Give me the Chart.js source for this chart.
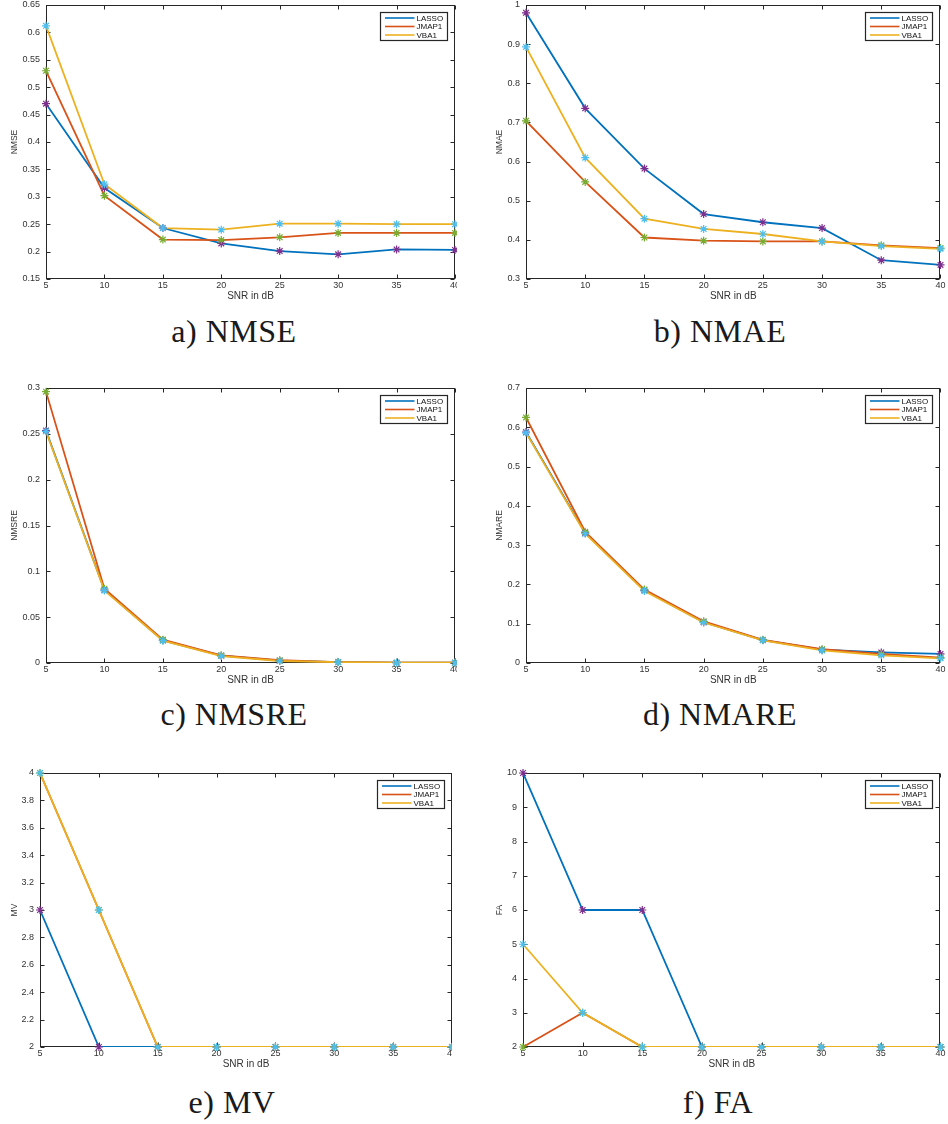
<!DOCTYPE html>
<html lang="en">
<head>
    <meta charset="UTF-8">
    <title>SNR comparison: LASSO, JMAP1, VBA1</title>
    <script src="https://cdn.jsdelivr.net/npm/chart.js"></script>
    <style>
        body {
            margin: 0;
            background-color: white;
            width: 948px;
            height: 1124px;
            position: relative;
            overflow: hidden;
        }
        .panel {
            position: absolute;
            overflow: hidden;
        }
        .caption {
            position: absolute;
            width: 300px;
            text-align: center;
            font-family: "Liberation Serif", serif;
            font-size: 32px;
            line-height: 30px;
            letter-spacing: 0.5px;
            color: #1a1a1a;
        }
    </style>
</head>
<body>
    <script>
        // Data
        const snr = [5, 10, 15, 20, 25, 30, 35, 40];
        const methods = ['LASSO', 'JMAP1', 'VBA1'];

        const nmseLasso = [0.470, 0.316, 0.243, 0.215, 0.201, 0.195, 0.204, 0.203];
        const nmseJmap  = [0.530, 0.302, 0.222, 0.221, 0.226, 0.234, 0.234, 0.234];
        const nmseVba   = [0.612, 0.323, 0.243, 0.240, 0.251, 0.251, 0.250, 0.250];

        const nmaeLasso = [0.980, 0.736, 0.582, 0.466, 0.445, 0.430, 0.348, 0.336];
        const nmaeJmap  = [0.704, 0.548, 0.406, 0.398, 0.396, 0.396, 0.386, 0.379];
        const nmaeVba   = [0.893, 0.610, 0.454, 0.428, 0.415, 0.396, 0.384, 0.377];

        const nmsreLasso = [0.2535, 0.0796, 0.0247, 0.0080, 0.0025, 0.0010, 0.0004, 0.0003];
        const nmsreJmap  = [0.2960, 0.0810, 0.0255, 0.0084, 0.0030, 0.0010, 0.0004, 0.0003];
        const nmsreVba   = [0.2527, 0.0790, 0.0244, 0.0076, 0.0022, 0.0009, 0.0004, 0.0003];

        const nmareLasso = [0.588, 0.331, 0.185, 0.104, 0.0585, 0.034, 0.027, 0.023];
        const nmareJmap  = [0.625, 0.334, 0.187, 0.106, 0.059, 0.035, 0.023, 0.0136];
        const nmareVba   = [0.586, 0.329, 0.183, 0.103, 0.0577, 0.032, 0.0195, 0.012];

        const mvLasso = [3, 2, 2, 2, 2, 2, 2, 2];
        const mvJmap  = [4, 3, 2, 2, 2, 2, 2, 2];
        const mvVba   = [4, 3, 2, 2, 2, 2, 2, 2];

        const faLasso = [10, 6, 6, 2, 2, 2, 2, 2];
        const faJmap  = [2, 3, 2, 2, 2, 2, 2, 2];
        const faVba   = [5, 3, 2, 2, 2, 2, 2, 2];

        // Tick values
        const snrTicks   = [5, 10, 15, 20, 25, 30, 35, 40];
        const nmseTicks  = [0.15, 0.2, 0.25, 0.3, 0.35, 0.4, 0.45, 0.5, 0.55, 0.6, 0.65];
        const nmaeTicks  = [0.3, 0.4, 0.5, 0.6, 0.7, 0.8, 0.9, 1];
        const nmsreTicks = [0, 0.05, 0.1, 0.15, 0.2, 0.25, 0.3];
        const nmareTicks = [0, 0.1, 0.2, 0.3, 0.4, 0.5, 0.6, 0.7];
        const mvTicks    = [2, 2.2, 2.4, 2.6, 2.8, 3, 3.2, 3.4, 3.6, 3.8, 4];
        const faTicks    = [2, 3, 4, 5, 6, 7, 8, 9, 10];

        // MATLAB default colours: lines, then the marker colours
        const lineColors = ['#0072BD', '#D95319', '#EDB120'];
        const markerColors = ['#7E2F8E', '#77AC30', '#4DBEEE'];

        const panels = [
            { caption: 'a) NMSE', yTitle: 'NMSE', series: [nmseLasso, nmseJmap, nmseVba], yTicks: nmseTicks,
              left: 0, top: -6, w: 470, h: 310, clip: 457, axisW: 46, padR: 15, yTitleX: 14.5, capX: 234, capY: 331 },
            { caption: 'b) NMAE', yTitle: 'NMAE', series: [nmaeLasso, nmaeJmap, nmaeVba], yTicks: nmaeTicks,
              left: 478, top: -6, w: 470, h: 310, clip: 470, axisW: 48, padR: 7, yTitleX: 22, capX: 720, capY: 331 },
            { caption: 'c) NMSRE', yTitle: 'NMSRE', series: [nmsreLasso, nmsreJmap, nmsreVba], yTicks: nmsreTicks,
              left: 0, top: 377, w: 470, h: 311, clip: 457, axisW: 46, padR: 15, yTitleX: 15, capX: 234, capY: 714 },
            { caption: 'd) NMARE', yTitle: 'NMARE', series: [nmareLasso, nmareJmap, nmareVba], yTicks: nmareTicks,
              left: 478, top: 377, w: 470, h: 311, clip: 470, axisW: 48, padR: 7, yTitleX: 22, capX: 720, capY: 714 },
            { caption: 'e) MV', yTitle: 'MV', series: [mvLasso, mvJmap, mvVba], yTicks: mvTicks,
              left: 0, top: 762, w: 470, h: 310, clip: 452, axisW: 40, padR: 18, yTitleX: 14.5, capX: 232, capY: 1102 },
            { caption: 'f) FA', yTitle: 'FA', series: [faLasso, faJmap, faVba], yTicks: faTicks,
              left: 478, top: 762, w: 470, h: 310, clip: 470, axisW: 45, padR: 7, yTitleX: 21.4, capX: 718, capY: 1102 }
        ];

        // box around the axes with inward ticks on all four sides
        const axesBox = {
            id: 'axesBox',
            beforeDatasetsDraw(chart) {
                const { ctx, chartArea: a, scales } = chart;
                const L = Math.round(a.left) + 0.5, R = Math.round(a.right) - 0.5;
                const T = Math.round(a.top) + 0.5, B = Math.round(a.bottom) - 0.5;
                ctx.save();
                ctx.strokeStyle = '#262626';
                ctx.lineWidth = 1;
                ctx.strokeRect(L, T, R - L, B - T);
                ctx.beginPath();
                scales.x.ticks.forEach(t => {
                    const px = Math.round(scales.x.getPixelForValue(t.value)) + 0.5;
                    ctx.moveTo(px, B); ctx.lineTo(px, B - 4);
                    ctx.moveTo(px, T); ctx.lineTo(px, T + 4);
                });
                scales.y.ticks.forEach(t => {
                    const py = Math.round(scales.y.getPixelForValue(t.value)) + 0.5;
                    ctx.moveTo(L, py); ctx.lineTo(L + 4, py);
                    ctx.moveTo(R, py); ctx.lineTo(R - 4, py);
                });
                ctx.stroke();
                ctx.restore();
            }
        };

        // MATLAB style legend box in the upper right corner
        const boxLegend = {
            id: 'boxLegend',
            afterDatasetsDraw(chart) {
                const { ctx, chartArea: a } = chart;
                const items = chart.data.datasets.filter(d => d.inLegend);
                const w = 67, h = 28;
                const x = Math.round(a.right - 8 - w) + 0.5, y = Math.round(a.top + 7) + 0.5;
                ctx.save();
                ctx.fillStyle = '#fff';
                ctx.fillRect(x, y, w, h);
                ctx.strokeStyle = '#262626';
                ctx.lineWidth = 1.2;
                ctx.strokeRect(x, y, w, h);
                ctx.font = '8px "Liberation Sans", Arial, sans-serif';
                ctx.textBaseline = 'middle';
                items.forEach((d, i) => {
                    const ly = y + 5.5 + i * 8.5;
                    ctx.strokeStyle = d.borderColor;
                    ctx.lineWidth = 1.6;
                    ctx.beginPath();
                    ctx.moveTo(x + 4.5, ly);
                    ctx.lineTo(x + 34, ly);
                    ctx.stroke();
                    ctx.fillStyle = '#111';
                    ctx.fillText(d.label, x + 36, ly + 0.5);
                });
                ctx.restore();
            }
        };

        function fmt(v) {
            return String(+v.toFixed(3));
        }

        panels.forEach(p => {
            const wrap = document.createElement('div');
            wrap.className = 'panel';
            wrap.style.left = p.left + 'px';
            wrap.style.top = p.top + 'px';
            wrap.style.width = p.clip + 'px';
            wrap.style.height = p.h + 'px';
            const canvas = document.createElement('canvas');
            canvas.width = p.w;
            canvas.height = p.h;
            wrap.appendChild(canvas);
            document.body.appendChild(wrap);

            const cap = document.createElement('div');
            cap.className = 'caption';
            cap.textContent = p.caption;
            cap.style.left = (p.capX - 150) + 'px';
            cap.style.top = (p.capY - 15) + 'px';
            document.body.appendChild(cap);

            const n = methods.length;
            const datasets = [];
            // lines first, then the star markers on top
            p.series.forEach((vals, i) => {
                datasets.push({
                    label: methods[i],
                    inLegend: true,
                    data: snr.map((x, k) => ({ x: x, y: vals[k] })),
                    borderColor: lineColors[i],
                    backgroundColor: lineColors[i],
                    borderWidth: 1.8,
                    pointRadius: 0,
                    tension: 0,
                    order: 2 * n - i
                });
            });
            p.series.forEach((vals, i) => {
                datasets.push({
                    label: methods[i] + ' markers',
                    data: snr.map((x, k) => ({ x: x, y: vals[k] })),
                    showLine: false,
                    pointStyle: 'star',
                    pointRadius: 4,
                    pointBorderWidth: 1.2,
                    pointBorderColor: markerColors[i],
                    pointBackgroundColor: markerColors[i],
                    clip: false,
                    order: n - i
                });
            });

            new Chart(canvas.getContext('2d'), {
                type: 'line',
                data: { datasets: datasets },
                options: {
                    responsive: false,
                    animation: false,
                    layout: { padding: { left: 0, top: 11, right: p.padR, bottom: 0 } },
                    plugins: {
                        legend: { display: false },
                        tooltip: { enabled: false }
                    },
                    scales: {
                        x: {
                            type: 'linear',
                            min: snrTicks[0],
                            max: snrTicks[snrTicks.length - 1],
                            afterBuildTicks: axis => { axis.ticks = snrTicks.map(v => ({ value: v })); },
                            afterFit: axis => { axis.height = 25; },
                            grid: { display: false, drawTicks: false },
                            border: { display: false },
                            ticks: {
                                padding: 2.5,
                                color: '#333',
                                maxRotation: 0,
                                font: { family: '"Liberation Sans", Arial, sans-serif', size: 9, lineHeight: 1 },
                                callback: v => fmt(v)
                            },
                            title: {
                                display: true,
                                text: 'SNR in dB',
                                color: '#333',
                                padding: { top: 0, bottom: 3 },
                                font: { family: '"Liberation Sans", Arial, sans-serif', size: 10, lineHeight: 1 }
                            }
                        },
                        y: {
                            type: 'linear',
                            min: p.yTicks[0],
                            max: p.yTicks[p.yTicks.length - 1],
                            afterBuildTicks: axis => { axis.ticks = p.yTicks.map(v => ({ value: v })); },
                            afterFit: axis => { axis.width = p.axisW; },
                            grid: { display: false, drawTicks: false },
                            border: { display: false },
                            ticks: {
                                padding: 6,
                                color: '#333',
                                font: { family: '"Liberation Sans", Arial, sans-serif', size: 9, lineHeight: 1 },
                                callback: v => fmt(v)
                            },
                            title: {
                                display: true,
                                text: p.yTitle,
                                color: '#333',
                                padding: { top: p.yTitleX - 4.25, bottom: 0 },
                                font: { family: '"Liberation Sans", Arial, sans-serif', size: 8.5, lineHeight: 1 }
                            }
                        }
                    }
                },
                plugins: [axesBox, boxLegend]
            });
        });
    </script>
</body>
</html>
